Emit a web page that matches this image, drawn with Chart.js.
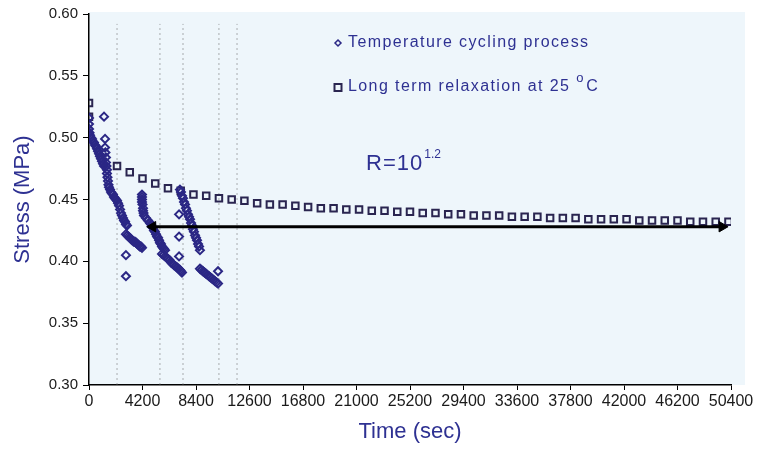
<!DOCTYPE html>
<html>
<head>
<meta charset="utf-8">
<script src="https://cdn.jsdelivr.net/npm/chart.js@4.4.1/dist/chart.umd.min.js"></script>
<style>
  html, body { margin: 0; padding: 0; background: #fff; }
  #wrap { width: 760px; height: 449px; }
</style>
</head>
<body>
<div id="wrap"><canvas id="chart" width="760" height="449"></canvas></div>
<script>
// temperature cycling process (sec, MPa), cycle by cycle
const cycleTime = [
  // cycle 1
  0, 0, 0, 40, 80, 160, 240, 310, 390, 470, 550, 630, 710, 790, 860, 940, 1020, 1100, 1180,
  1180, 1260, 1260, 1290, 1330, 1330, 1370, 1410, 1410, 1450, 1490, 1530, 1570, 1650, 1730, 1800, 1880, 1960, 2040, 2120, 2200,
  2280, 2360, 2440, 2510, 2590, 2670, 2750, 2830, 2900, 2980,
  2900, 3000, 3100, 3200, 3300, 3400, 3500, 3600, 3700, 3800, 3900, 4000, 4080, 4160,
  2900, 2900,
  // cycle 2
  4160, 4160, 4160, 4160, 4200, 4240, 4240, 4280, 4320,
  4470, 4630, 4790, 4870, 4950, 5020, 5100, 5180, 5260, 5340, 5420, 5500, 5570, 5650, 5730, 5810, 5890, 5970,
  5730, 5850, 5970, 6090, 6200, 6320, 6440, 6560, 6670, 6790, 6910, 7030, 7140, 7220, 7300,
  7070, 7070, 7070,
  // cycle 3
  7140, 7220, 7300, 7380, 7460, 7540, 7610, 7690, 7770, 7850, 7930, 8010, 8090, 8160, 8240, 8320, 8400, 8480, 8560, 8640, 8710,
  8710, 8830, 8950, 9070, 9180, 9300, 9420, 9540, 9660, 9780, 9890, 10010, 10130,
  10130
];
const cycleStress = [
  0.516, 0.511, 0.507, 0.504, 0.502, 0.500, 0.499, 0.497, 0.496, 0.494, 0.493, 0.491, 0.489, 0.487, 0.485, 0.483, 0.481, 0.479, 0.477,
  0.517, 0.499, 0.492, 0.488, 0.484, 0.480, 0.477, 0.474, 0.471, 0.468, 0.465, 0.462, 0.460, 0.458, 0.456, 0.455, 0.454, 0.452, 0.451, 0.450, 0.449,
  0.447, 0.445, 0.442, 0.439, 0.437, 0.435, 0.433, 0.432, 0.430, 0.429,
  0.422, 0.421, 0.420, 0.419, 0.418, 0.417, 0.416, 0.416, 0.415, 0.414, 0.413, 0.412, 0.412, 0.411,
  0.405, 0.388,
  0.454, 0.452, 0.450, 0.448, 0.446, 0.443, 0.441, 0.439, 0.437,
  0.435, 0.433, 0.431, 0.430, 0.428, 0.427, 0.425, 0.424, 0.422, 0.420, 0.419, 0.417, 0.415, 0.414, 0.412, 0.411, 0.410, 0.409,
  0.406, 0.405, 0.404, 0.403, 0.402, 0.401, 0.399, 0.398, 0.397, 0.396, 0.395, 0.394, 0.393, 0.392, 0.391,
  0.438, 0.420, 0.404,
  0.458, 0.456, 0.453, 0.451, 0.448, 0.446, 0.443, 0.441, 0.438, 0.436, 0.434, 0.431, 0.429, 0.426, 0.424, 0.421, 0.419, 0.417, 0.414, 0.412, 0.409,
  0.394, 0.393, 0.392, 0.391, 0.390, 0.389, 0.388, 0.387, 0.386, 0.385, 0.384, 0.383, 0.382,
  0.392
];

// long term relaxation at 25 C
const relaxTime = [
  0, 0, 2200, 3200, 4200, 5200, 6200, 7200, 8200, 9200, 10200, 11200, 12200, 13200, 14200, 15200,
  16200, 17200, 18200, 19200, 20200, 21200, 22200, 23200, 24200, 25200, 26200, 27200, 28200, 29200,
  30200, 31200, 32200, 33200, 34200, 35200, 36200, 37200, 38200, 39200, 40200, 41200, 42200, 43200,
  44200, 45200, 46200, 47200, 48200, 49200, 50200
];
const relaxStress = [
  0.528, 0.517, 0.477, 0.472, 0.467, 0.463, 0.459, 0.457, 0.454, 0.453, 0.451, 0.450, 0.449, 0.447, 0.446, 0.446,
  0.445, 0.444, 0.443, 0.443, 0.442, 0.442, 0.441, 0.441, 0.440, 0.440, 0.439, 0.439, 0.438, 0.438,
  0.437, 0.437, 0.437, 0.436, 0.436, 0.436, 0.435, 0.435, 0.435, 0.434, 0.434, 0.434, 0.434, 0.433,
  0.433, 0.433, 0.433, 0.432, 0.432, 0.432, 0.432
];

// cycle boundaries (dotted verticals) and the R arrow
const cycleMarks = [2200, 5570, 7380, 10200, 11620];
const markRange = [0.30, 0.592];
const arrowTime = [5000, 49700];
const arrowStress = [0.428, 0.428];

const xTicks = [0, 4200, 8400, 12600, 16800, 21000, 25200, 29400, 33600, 37800, 42000, 46200, 50400];
const yTicks = [0.30, 0.35, 0.40, 0.45, 0.50, 0.55, 0.60];

const NAVY = "#2e3192";
const MARK = "#2b2785";
const SQ = "#2a2550";

const toPts = (xs, ys) => xs.map((x, i) => ({ x: x, y: ys[i] }));

const markSets = cycleMarks.map((t) => ({
  type: "line",
  data: [{ x: t, y: markRange[0] }, { x: t, y: markRange[1] }],
  borderColor: "rgba(110,110,110,0.55)",
  borderWidth: 1,
  borderDash: [2, 3],
  pointRadius: 0,
  showLine: true,
  order: 4,
}));

const decor = {
  id: "decor",
  beforeDraw(chart) {
    const { ctx, chartArea } = chart;
    ctx.save();
    ctx.fillStyle = "#ffffff";
    ctx.fillRect(0, 0, chart.width, chart.height);
    ctx.fillStyle = "#eef6fb";
    ctx.fillRect(chartArea.left, chartArea.top - 2, chartArea.right - chartArea.left + 14, chartArea.bottom - chartArea.top + 2);
    ctx.restore();
  },
  afterDraw(chart) {
    const ctx = chart.ctx;
    ctx.save();
    ctx.textBaseline = "middle";
    ctx.textAlign = "left";
    ctx.fillStyle = NAVY;
    ctx.letterSpacing = "1.4px";
    ctx.font = "16px 'Liberation Sans', Arial, sans-serif";
    ctx.fillText("Temperature cycling process", 348, 43);
    const s = "Long term relaxation at 25 ";
    ctx.fillText(s, 348, 87);
    const w = ctx.measureText(s).width;
    ctx.font = "13px 'Liberation Sans', Arial, sans-serif";
    ctx.fillText("o", 348 + w, 78);
    ctx.font = "16px 'Liberation Sans', Arial, sans-serif";
    ctx.fillText("C", 348 + w + 10, 87);

    // legend markers
    ctx.strokeStyle = MARK;
    ctx.lineWidth = 1.5;
    ctx.beginPath();
    ctx.moveTo(338, 40); ctx.lineTo(341, 43); ctx.lineTo(338, 46); ctx.lineTo(335, 43); ctx.closePath();
    ctx.stroke();
    ctx.strokeStyle = SQ;
    ctx.lineWidth = 2;
    ctx.strokeRect(334.5, 84, 7, 7);

    // R annotation
    ctx.fillStyle = NAVY;
    ctx.letterSpacing = "1px";
    ctx.font = "22px 'Liberation Sans', Arial, sans-serif";
    ctx.fillText("R=10", 366, 164);
    const rw = ctx.measureText("R=10").width;
    ctx.letterSpacing = "0px";
    ctx.font = "12px 'Liberation Sans', Arial, sans-serif";
    ctx.fillText("1.2", 366 + rw + 1, 155);
    ctx.restore();
  },
};

new Chart(document.getElementById("chart"), {
  type: "scatter",
  data: {
    datasets: [
      {
        label: "Temperature cycling process",
        data: toPts(cycleTime, cycleStress),
        pointStyle: "rectRot",
        pointRadius: 4,
        borderColor: MARK,
        backgroundColor: "rgba(255,255,255,0)",
        borderWidth: 2,
        order: 1,
      },
      {
        label: "Long term relaxation at 25 °C",
        data: toPts(relaxTime, relaxStress),
        pointStyle: "rect",
        pointRadius: 4.6,
        borderColor: SQ,
        backgroundColor: "rgba(255,255,255,0)",
        borderWidth: 2,
        order: 2,
      },
      {
        type: "line",
        label: "R",
        data: toPts(arrowTime, arrowStress),
        borderColor: "#000",
        borderWidth: 3,
        showLine: true,
        pointStyle: "triangle",
        pointRadius: 6,
        pointRotation: [-90, 90],
        pointBackgroundColor: "#000",
        pointBorderColor: "#000",
        pointBorderWidth: 1,
        order: 0,
      },
      ...markSets,
    ],
  },
  options: {
    responsive: false,
    animation: false,
    events: [],
    layout: { padding: { left: 0, right: 29, top: 12, bottom: 0 } },
    plugins: {
      legend: { display: false },
      tooltip: { enabled: false },
    },
    scales: {
      x: {
        type: "linear",
        min: 0,
        max: 50400,
        afterBuildTicks: (s) => { s.ticks = xTicks.map((v) => ({ value: v })); },
        afterFit: (s) => { s.height = 64; },
        border: { color: "#000", width: 1.5 },
        grid: { display: true, drawOnChartArea: false, drawTicks: true, tickLength: 5, color: "#000" },
        ticks: {
          autoSkip: false,
          maxRotation: 0,
          padding: 2,
          color: "#1a1a1a",
          font: { family: "'Liberation Sans Narrow', 'Arial Narrow', 'Liberation Sans', sans-serif", size: 16 },
          callback: (v) => String(v),
        },
        title: {
          display: true,
          text: "Time (sec)",
          color: NAVY,
          padding: { top: 0, bottom: 4 },
          font: { family: "'Liberation Sans', Arial, sans-serif", size: 22 },
        },
      },
      y: {
        type: "linear",
        min: 0.3,
        max: 0.6,
        afterBuildTicks: (s) => { s.ticks = yTicks.map((v) => ({ value: v })); },
        afterFit: (s) => { s.width = 89; },
        border: { color: "#000", width: 1.5 },
        grid: { display: true, drawOnChartArea: false, drawTicks: true, tickLength: 6, color: "#000" },
        ticks: {
          padding: 5,
          color: "#1a1a1a",
          font: { family: "'Liberation Sans', Arial, sans-serif", size: 15 },
          callback: (v) => v.toFixed(2),
        },
        title: {
          display: true,
          text: "Stress (MPa)",
          color: NAVY,
          padding: { top: 10, bottom: 0 },
          font: { family: "'Liberation Sans', Arial, sans-serif", size: 22 },
        },
      },
    },
  },
  plugins: [decor],
});
</script>
</body>
</html>
